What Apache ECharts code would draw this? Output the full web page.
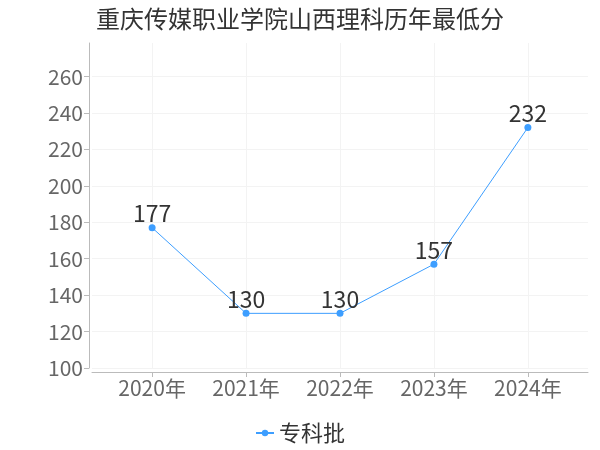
<!DOCTYPE html>
<html>
<head>
<meta charset="utf-8">
<script src="https://cdn.jsdelivr.net/npm/echarts@6/dist/echarts.min.js"></script>
<style>
  html, body { margin: 0; padding: 0; background: #fff; }
  #main { width: 600px; height: 450px; }
</style>
</head>
<body>
<div id="main"></div>
<script>
var title = '重庆传媒职业学院山西理科历年最低分';
var years = [2020, 2021, 2022, 2023, 2024];
var seriesName = '专科批';
var scores = [177, 130, 130, 157, 232];
var yTicks = [100, 120, 140, 160, 180, 200, 220, 240, 260];

var points = [];
for (var i = 0; i < years.length; i++) {
    points.push([years[i], scores[i]]);
}

var myChart = echarts.init(document.getElementById('main'));
var option = {
    textStyle: { fontFamily: '"Noto Sans CJK SC", sans-serif' },
    title: {
        text: title,
        left: 'center',
        top: 2,
        textStyle: { fontSize: 24, fontWeight: 'normal', color: '#333' }
    },
    legend: {
        bottom: 1,
        left: 'center',
        itemWidth: 18,
        itemHeight: 8,
        textStyle: { fontSize: 22, color: '#333' },
        data: [seriesName]
    },
    grid: { left: 92, right: 12, top: 43, bottom: 82, containLabel: false },
    xAxis: {
        type: 'value',
        min: 2019.36,
        max: 2024.64,
        offset: 4,
        axisLine: { show: true, lineStyle: { color: '#bbb' } },
        axisTick: { show: true, customValues: years, lineStyle: { color: '#bbb' } },
        axisLabel: {
            fontSize: 21,
            color: '#666',
            margin: 6,
            formatter: function (v) {
                return Math.abs(v - Math.round(v)) < 1e-6 ? Math.round(v) + '年' : '';
            }
        },
        splitLine: { show: true, lineStyle: { color: '#f3f3f3' } }
    },
    yAxis: {
        type: 'value',
        min: 100,
        max: 278.4,
        interval: 20,
        offset: 3,
        axisLine: { show: true, lineStyle: { color: '#bbb' } },
        axisTick: { show: true, customValues: yTicks, lineStyle: { color: '#bbb' } },
        axisLabel: {
            fontSize: 21,
            color: '#666',
            margin: 6,
            formatter: function (v) {
                return v % 20 === 0 ? v : '';
            }
        },
        splitLine: { show: true, lineStyle: { color: '#f3f3f3' } }
    },
    series: [
        {
            name: seriesName,
            type: 'line',
            data: points,
            symbol: 'circle',
            symbolSize: 7,
            itemStyle: { color: '#3d9eff' },
            lineStyle: { width: 1, color: '#3d9eff' },
            label: {
                show: true,
                position: 'top',
                distance: -1,
                fontSize: 23,
                color: '#333'
            }
        }
    ]
};
myChart.setOption(option);
</script>
</body>
</html>
